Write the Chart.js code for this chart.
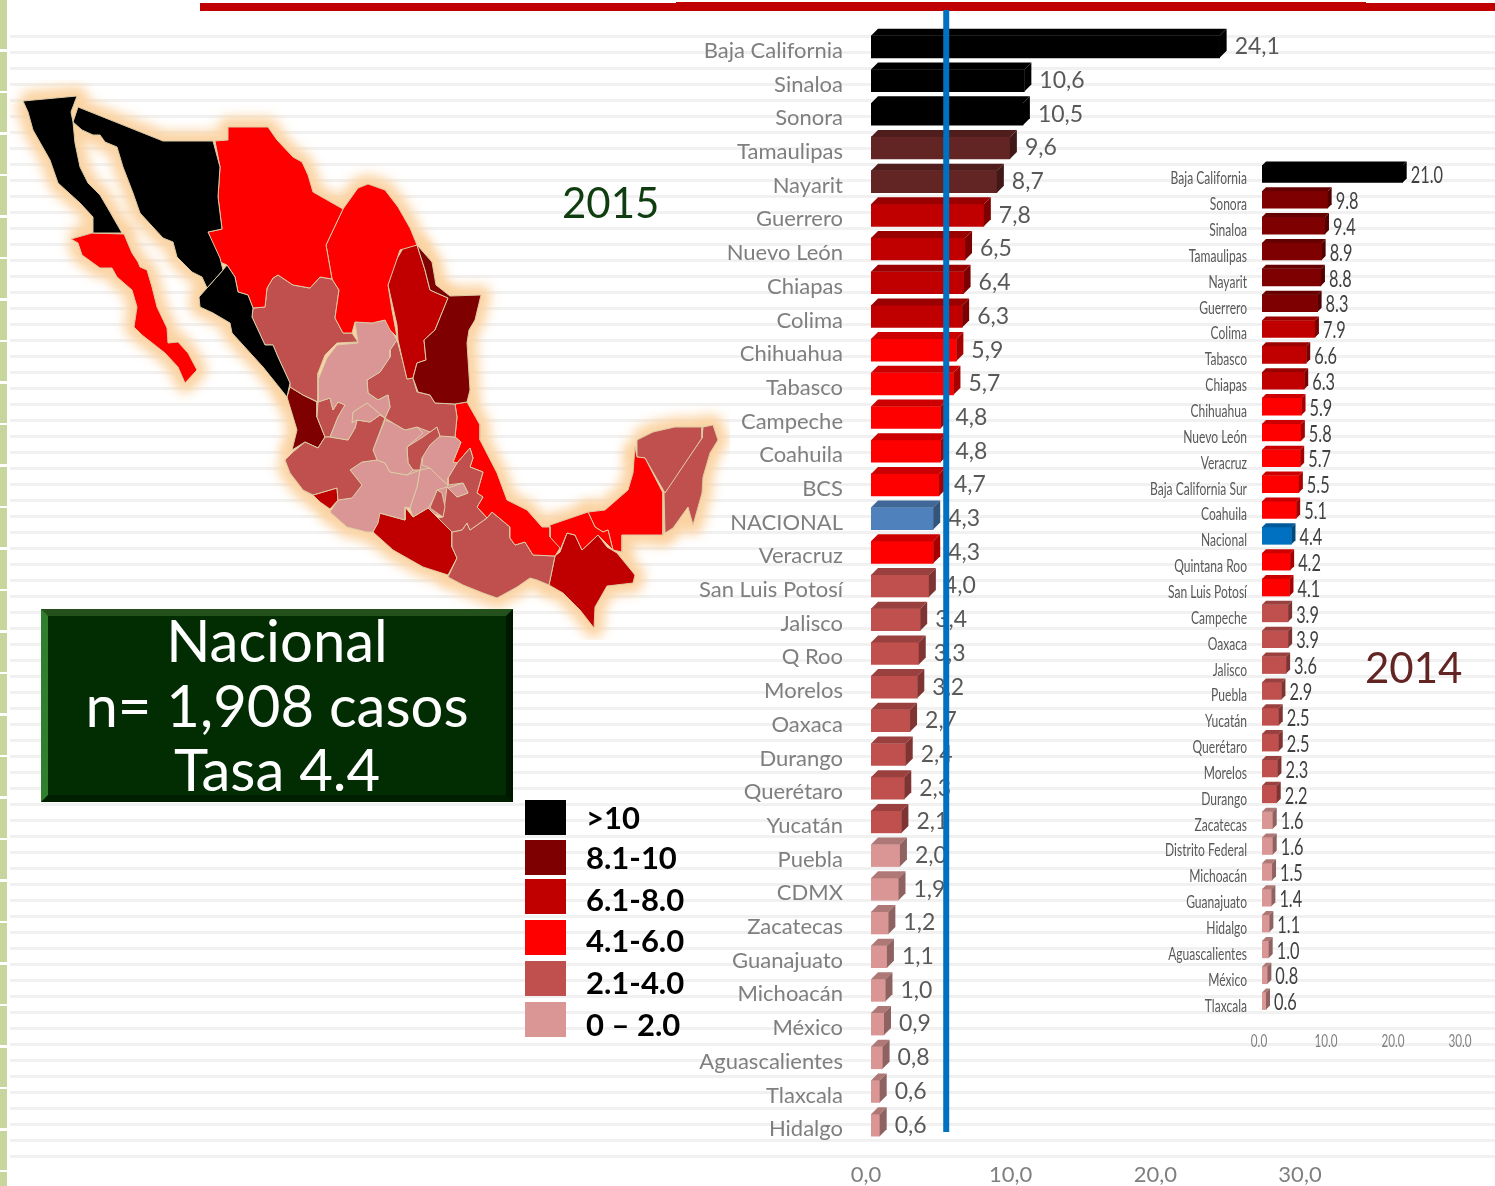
<!DOCTYPE html>
<html>
<head>
<meta charset="utf-8">
<title>Tasa 2015 / 2014</title>
<script src="https://cdn.jsdelivr.net/npm/chart.js@4"></script>
<style>
  html, body { margin: 0; padding: 0; background: #fff; }
  #page { position: relative; width: 1495px; height: 1186px; overflow: hidden; background: #fff; font-family: Lato, sans-serif; }
  #stripes { position: absolute; left: 10px; right: 0; top: 35px; bottom: 16px;
    background: repeating-linear-gradient(180deg, #f1f1f1 0, #f1f1f1 3px, #fff 3px, #fff 16px); }
  #strip { position: absolute; left: 0; top: 0; width: 7px; height: 1186px;
    background: repeating-linear-gradient(180deg, #c6d69c 0, #c6d69c 39px, #fff 39px, #fff 41.5px); background-position: 0 10px; }
  .redbar { position: absolute; background: #c00000; }
  canvas { position: absolute; }
  #box { position: absolute; left: 41px; top: 609px; width: 472px; height: 193px; box-sizing: border-box;
    background: #022c02; border-style: solid; border-width: 7px; border-color: #24501c #001800 #001f00 #2f7f2f;
    color: #fff; text-align: center; font-size: 58px; line-height: 64.5px; }
  #box div { white-space: nowrap; position: relative; top: -8px; }
  .year { position: absolute; font-size: 42px; line-height: 50px; }
  .swatch { position: absolute; left: 525px; width: 41px; height: 35px; }
  .legtext { position: absolute; left: 586px; font-weight: bold; font-size: 31px; line-height: 36px; color: #000; white-space: nowrap; }
</style>
</head>
<body>
<div id="page">
  <div id="stripes"></div>
  <div id="strip"></div>
  <div class="redbar" style="left:200px;top:3px;width:1295px;height:8px"></div>
  <div class="redbar" style="left:676px;top:2px;width:690px;height:8px"></div>
  <canvas id="map" width="730" height="560" style="left:0;top:80px"></canvas>
  <canvas id="chart2015" width="690" height="1186" style="left:680px;top:0"></canvas>
  <canvas id="chart2014" width="355" height="920" style="left:1140px;top:140px"></canvas>
  <div class="year" style="left:562px;top:177px;color:#0f3d0f">2015</div>
  <div class="year" style="left:1365px;top:642px;color:#632523">2014</div>
  <div id="box"><div>Nacional</div><div>n= 1,908 casos</div><div>Tasa 4.4</div></div>
  <div id="legend"></div>
</div>
<script>
// 2015
var labels2015 = ['Baja California', 'Sinaloa', 'Sonora', 'Tamaulipas', 'Nayarit', 'Guerrero', 'Nuevo León', 'Chiapas', 'Colima', 'Chihuahua', 'Tabasco', 'Campeche', 'Coahuila', 'BCS', 'NACIONAL', 'Veracruz', 'San Luis Potosí', 'Jalisco', 'Q Roo', 'Morelos', 'Oaxaca', 'Durango', 'Querétaro', 'Yucatán', 'Puebla', 'CDMX', 'Zacatecas', 'Guanajuato', 'Michoacán', 'México', 'Aguascalientes', 'Tlaxcala', 'Hidalgo'];
var values2015 = [24.1, 10.6, 10.5, 9.6, 8.7, 7.8, 6.5, 6.4, 6.3, 5.9, 5.7, 4.8, 4.8, 4.7, 4.3, 4.3, 4.0, 3.4, 3.3, 3.2, 2.7, 2.4, 2.3, 2.1, 2.0, 1.9, 1.2, 1.1, 1.0, 0.9, 0.8, 0.6, 0.6];
var refLine2015 = 5.2;

// 2014
var labels2014 = ['Baja California', 'Sonora', 'Sinaloa', 'Tamaulipas', 'Nayarit', 'Guerrero', 'Colima', 'Tabasco', 'Chiapas', 'Chihuahua', 'Nuevo León', 'Veracruz', 'Baja California Sur', 'Coahuila', 'Nacional', 'Quintana Roo', 'San Luis Potosí', 'Campeche', 'Oaxaca', 'Jalisco', 'Puebla', 'Yucatán', 'Querétaro', 'Morelos', 'Durango', 'Zacatecas', 'Distrito Federal', 'Michoacán', 'Guanajuato', 'Hidalgo', 'Aguascalientes', 'México', 'Tlaxcala'];
var values2014 = [21.0, 9.8, 9.4, 8.9, 8.8, 8.3, 7.9, 6.6, 6.3, 5.9, 5.8, 5.7, 5.5, 5.1, 4.4, 4.2, 4.1, 3.9, 3.9, 3.6, 2.9, 2.5, 2.5, 2.3, 2.2, 1.6, 1.6, 1.5, 1.4, 1.1, 1.0, 0.8, 0.6];

var legendLabels = ['>10', '8.1-10', '6.1-8.0', '4.1-6.0', '2.1-4.0', '0 – 2.0'];
var legendColors = ['#000000', '#7f0000', '#c00000', '#ff0000', '#c0504d', '#d99694'];

// map outlines, in map units; bin = index into legendColors
var mapNames = ['Baja California', 'BCS', 'Sonora', 'Sinaloa', 'Chihuahua', 'Coahuila', 'Tamaulipas', 'Nuevo León', 'Durango', 'Zacatecas', 'Aguascalientes', 'San Luis Potosí', 'Jalisco', 'Jalisco norte', 'Colima', 'Nayarit', 'Guanajuato', 'Querétaro', 'Hidalgo', 'Michoacán', 'México', 'Morelos', 'Tlaxcala', 'Puebla', 'Veracruz', 'Tabasco', 'Campeche', 'Yucatán', 'Q Roo', 'Oaxaca', 'Guerrero', 'Chiapas'];
var mapBins = [0, 3, 0, 0, 3, 3, 1, 2, 4, 5, 5, 4, 4, 4, 2, 1, 5, 4, 5, 5, 5, 4, 5, 4, 3, 3, 3, 4, 4, 4, 2, 2];
var mapOutlines = [
  [[23,101],[77,96],[71,112],[73,122],[75,143],[80,167],[88,183],[100,195],[110,212],[122,233],[93,233],[93,217],[80,203],[58,183],[50,160],[33,130],[28,112]],
  [[71,239],[92,233],[124,234],[132,253],[138,262],[140,267],[147,270],[152,287],[157,307],[167,328],[168,343],[178,342],[188,353],[197,370],[185,383],[178,367],[165,353],[142,335],[134,327],[137,307],[132,290],[117,277],[112,268],[100,268],[82,255],[78,243]],
  [[73,122],[78,107],[163,141],[213,141],[220,167],[218,197],[222,229],[208,232],[220,258],[223,270],[207,288],[202,277],[192,272],[177,257],[173,242],[163,238],[140,213],[133,193],[123,167],[117,147],[105,142],[100,135],[93,135],[82,130]],
  [[207,288],[223,270],[227,265],[235,277],[238,292],[248,295],[253,308],[252,317],[265,345],[273,345],[278,357],[290,383],[287,397],[263,367],[232,333],[230,323],[213,313],[200,307],[199,297]],
  [[215,141],[228,140],[228,127],[268,127],[277,140],[293,157],[302,162],[308,175],[313,192],[343,209],[326,245],[332,279],[320,277],[310,288],[293,285],[278,275],[273,278],[267,288],[265,307],[253,308],[248,295],[238,292],[235,277],[227,265],[220,262],[208,232],[222,229],[218,197],[220,167]],
  [[326,245],[343,209],[358,188],[368,184],[385,190],[398,207],[410,228],[417,245],[400,250],[396,262],[388,285],[392,310],[397,337],[390,330],[385,320],[372,323],[355,322],[352,333],[343,333],[335,318],[339,290],[332,279]],
  [[417,245],[432,262],[436,285],[450,296],[481,295],[475,320],[469,330],[467,343],[470,390],[467,402],[455,404],[435,403],[430,395],[418,392],[413,378],[417,363],[426,360],[424,340],[435,330],[448,298],[430,290],[425,270]],
  [[395,262],[405,245],[417,245],[425,270],[430,290],[448,298],[435,330],[424,340],[426,360],[417,363],[413,378],[407,379],[403,362],[398,340],[397,325],[388,285]],
  [[253,308],[265,307],[267,288],[273,278],[278,275],[293,285],[310,288],[320,277],[332,279],[339,290],[335,318],[343,333],[352,333],[358,342],[337,343],[325,355],[318,373],[318,402],[303,395],[290,387],[290,383],[278,357],[273,345],[265,345],[252,317]],
  [[358,343],[355,322],[372,323],[385,320],[397,340],[390,350],[390,357],[380,372],[367,380],[368,393],[378,400],[388,395],[390,407],[385,418],[367,403],[353,412],[352,423],[357,420],[355,428],[348,440],[330,437],[338,417],[345,405],[338,402],[333,410],[330,398],[318,402],[318,380],[327,358],[337,345]],
  [[353,412],[367,403],[385,418],[380,415],[370,422],[357,420],[352,423]],
  [[397,340],[403,362],[407,379],[413,378],[417,392],[430,395],[435,403],[455,404],[457,417],[455,437],[440,436],[437,427],[430,432],[417,427],[405,430],[393,423],[385,418],[390,407],[388,395],[378,400],[368,393],[367,380],[380,372],[390,357],[390,350]],
  [[285,460],[293,452],[305,442],[318,448],[325,437],[330,437],[348,440],[355,428],[357,420],[370,422],[380,415],[385,418],[373,450],[377,460],[362,462],[350,470],[362,485],[352,498],[338,500],[337,488],[313,495],[303,490],[290,473]],
  [[318,402],[330,398],[333,410],[338,402],[345,405],[338,417],[330,437],[325,437],[317,417]],
  [[313,495],[337,488],[338,500],[330,509],[320,502]],
  [[290,387],[303,395],[317,402],[317,417],[325,437],[318,448],[305,442],[292,450],[297,430],[287,397]],
  [[385,420],[393,423],[405,430],[417,427],[423,433],[407,447],[408,463],[413,470],[407,475],[390,472],[385,463],[377,460],[373,450]],
  [[407,447],[423,437],[430,432],[437,427],[440,436],[430,445],[422,458],[420,470],[413,470],[408,463]],
  [[440,436],[455,437],[461,442],[453,462],[457,463],[448,478],[448,485],[440,478],[430,468],[422,465],[423,455],[430,445]],
  [[350,470],[362,462],[377,460],[385,463],[390,472],[407,475],[420,470],[417,487],[410,508],[405,507],[405,520],[380,513],[378,523],[373,532],[367,532],[347,527],[330,512],[338,500],[352,498],[362,485]],
  [[420,470],[430,468],[440,478],[448,485],[447,487],[437,490],[433,500],[428,508],[413,517],[410,508],[417,487]],
  [[433,500],[437,490],[442,493],[445,507],[443,517],[430,508]],
  [[448,488],[463,483],[468,493],[457,497]],
  [[457,463],[470,448],[473,458],[470,467],[483,472],[477,493],[483,497],[477,507],[487,518],[470,530],[467,523],[462,530],[452,532],[438,518],[443,517],[447,487],[457,497],[468,493],[463,483],[448,485],[448,478]],
  [[455,404],[467,402],[480,425],[480,440],[497,473],[507,500],[527,510],[542,527],[550,527],[550,537],[560,548],[555,556],[533,555],[525,542],[515,545],[510,538],[510,527],[492,512],[487,518],[477,507],[483,497],[477,493],[483,472],[470,467],[473,458],[470,448],[457,463],[453,462],[461,442],[455,437],[457,417]],
  [[550,525],[588,512],[595,527],[603,532],[608,530],[613,550],[598,535],[582,550],[575,535],[567,533],[560,550],[550,537]],
  [[635,447],[637,457],[645,458],[663,493],[663,535],[622,535],[622,552],[613,550],[608,530],[603,532],[595,527],[588,512],[605,510],[628,490],[633,473]],
  [[637,440],[653,432],[675,427],[702,427],[702,438],[665,493],[645,458],[637,457]],
  [[703,427],[713,425],[718,440],[710,453],[703,477],[702,493],[693,525],[688,507],[673,528],[665,533],[664,493],[702,438]],
  [[452,532],[462,530],[467,523],[470,530],[487,518],[492,512],[510,527],[510,538],[515,545],[525,542],[533,555],[555,556],[549,585],[537,580],[530,578],[517,587],[497,598],[483,593],[463,585],[448,577],[457,558],[452,547]],
  [[373,532],[379,513],[405,520],[405,507],[413,517],[428,508],[438,518],[452,532],[452,547],[457,558],[448,575],[423,567],[393,550]],
  [[555,556],[560,552],[567,533],[575,535],[582,550],[598,535],[607,547],[617,553],[635,575],[633,583],[607,586],[595,607],[594,628],[580,610],[563,593],[549,585]]
];
// sits under the central states so no glow shows between them
var mapCentre = [[330,400],[360,345],[390,345],[410,385],[440,410],[455,420],[478,500],[470,525],[440,515],[410,505],[375,510],[345,495],[330,450]];

function darken(hex, f) {
  var n = parseInt(hex.slice(1), 16);
  var r = Math.round((n >> 16) * f), g = Math.round(((n >> 8) & 255) * f), b = Math.round((n & 255) * f);
  return `rgb(${r},${g},${b})`;
}

function barColors2015(v, name) {
  if (name == 'NACIONAL') return '#4f81bd';
  if (v > 10) return '#000000';
  if (v > 8) return '#632523';
  if (v > 6) return '#c00000';
  if (v >= 4.1) return '#ff0000';
  if (v > 2) return '#c0504d';
  return '#d99694';
}

function barColors2014(v, name) {
  if (name == 'Nacional') return '#0070c0';
  if (v > 10) return '#000000';
  if (v > 8) return '#7f0000';
  if (v > 6) return '#c00000';
  if (v >= 4.1) return '#ff0000';
  if (v > 2) return '#c0504d';
  return '#d99694';
}

function drawNarrow(ctx, text, x, y, sx) {
  ctx.save();
  ctx.translate(x, y);
  ctx.scale(sx, 1);
  ctx.fillText(text, 0, 0);
  ctx.restore();
}

// extruded faces and value labels, the bars themselves are plain Chart.js bars
function bars3d(o) {
  return {
    id: 'bars3d',
    afterDatasetsDraw: function (c) {
      var ctx = c.ctx;
      var meta = c.getDatasetMeta(0);
      var d = c.data.datasets[0];
      var depth = o.depth;
      ctx.save();
      meta.data.forEach(function (e, i) {
        var col = d.backgroundColor[i];
        var x0 = e.base, x1 = e.x;
        var top = e.y - e.height / 2, bot = e.y + e.height / 2;
        ctx.fillStyle = darken(col, 0.8);
        ctx.beginPath();
        ctx.moveTo(x0, top);
        ctx.lineTo(x0 + depth, top - depth);
        ctx.lineTo(x1 + depth, top - depth);
        ctx.lineTo(x1, top);
        ctx.closePath();
        ctx.fill();
        ctx.fillStyle = darken(col, 0.65);
        ctx.beginPath();
        ctx.moveTo(x1, top);
        ctx.lineTo(x1 + depth, top - depth);
        ctx.lineTo(x1 + depth, bot - depth);
        ctx.lineTo(x1, bot);
        ctx.closePath();
        ctx.fill();
      });
      ctx.font = o.font;
      ctx.fillStyle = o.color;
      ctx.textAlign = 'left';
      ctx.textBaseline = 'middle';
      meta.data.forEach(function (e, i) {
        drawNarrow(ctx, o.fmt(d.data[i]), e.x + depth + o.gap, e.y + o.dy, o.sx);
      });
      ctx.restore();
    }
  };
}

// the 2014 panel has squeezed lettering, no installed narrow face, so scale it
var narrowTicks = {
  id: 'narrowTicks',
  afterDraw: function (c) {
    var ctx = c.ctx;
    var ys = c.scales.y, xs = c.scales.x;
    ctx.save();
    ctx.textBaseline = 'middle';
    ctx.font = '17px Lato';
    ctx.fillStyle = '#595959';
    ctx.textAlign = 'right';
    ys.ticks.forEach(function (t, i) {
      drawNarrow(ctx, t.label, ys.right - 15, ys.getPixelForTick(i) + 5, 0.71);
    });
    ctx.font = '18px Lato';
    ctx.fillStyle = '#7f7f7f';
    ctx.textAlign = 'center';
    xs.ticks.forEach(function (t, i) {
      drawNarrow(ctx, t.value.toFixed(1), xs.getPixelForTick(i) - 3, xs.bottom - 19, 0.65);
    });
    ctx.restore();
  }
};

var refLinePlugin = {
  id: 'refLine',
  afterDraw: function (c) {
    var x = c.scales.x.getPixelForValue(refLine2015);
    var ctx = c.ctx;
    ctx.save();
    ctx.fillStyle = '#0070c0';
    ctx.fillRect(x - 3, c.scales.y.top - 20, 6, c.scales.y.bottom - c.scales.y.top + 10);
    ctx.restore();
  }
};

function barOptions(o) {
  return {
    indexAxis: 'y',
    responsive: false,
    animation: false,
    events: [],
    layout: { padding: { left: 0, right: o.right, top: o.top, bottom: 0 } },
    plugins: { legend: { display: false }, tooltip: { enabled: false } },
    scales: {
      x: {
        min: 0,
        max: 30,
        grid: { display: false, drawTicks: false },
        border: { display: false },
        afterFit: function (s) { s.height = o.axisH; },
        ticks: {
          display: o.showTicks,
          stepSize: 10,
          maxRotation: 0,
          padding: 20,
          labelOffset: -5,
          color: '#7f7f7f',
          font: { family: 'Lato', size: 22 },
          callback: function (v) { return v.toFixed(1).replace('.', ','); }
        }
      },
      y: {
        grid: { display: false, drawTicks: false },
        border: { display: false },
        afterFit: function (s) {
          s.width = o.axisW;
          // tick padding would otherwise push the plot top down
          s.paddingTop = 0;
          s.paddingBottom = 0;
        },
        ticks: {
          display: o.showTicks,
          autoSkip: false,
          padding: 28,
          labelOffset: 4,
          color: '#7f7f7f',
          font: { family: 'Lato', size: 22 }
        }
      }
    }
  };
}

new Chart(document.getElementById('chart2015'), {
  type: 'bar',
  data: {
    labels: labels2015,
    datasets: [{
      data: values2015,
      barThickness: 22,
      backgroundColor: values2015.map(function (v, i) { return barColors2015(v, labels2015[i]); })
    }]
  },
  options: barOptions({ right: 65, top: 30, axisH: 44, axisW: 191, showTicks: true }),
  plugins: [bars3d({
    depth: 7, gap: 8, dy: 0, sx: 1, font: '23px Lato', color: '#595959',
    fmt: function (v) { return v.toFixed(1).replace('.', ','); }
  }), refLinePlugin]
});

new Chart(document.getElementById('chart2014'), {
  type: 'bar',
  data: {
    labels: labels2014,
    datasets: [{
      data: values2014,
      barThickness: 17,
      backgroundColor: values2014.map(function (v, i) { return barColors2014(v, labels2014[i]); })
    }]
  },
  options: barOptions({ right: 32, top: 21, axisH: 46, axisW: 122, showTicks: false }),
  plugins: [bars3d({
    depth: 4, gap: 4, dy: 1.5, sx: 0.68, font: '24px Lato', color: '#404040',
    fmt: function (v) { return v.toFixed(1); }
  }), narrowTicks]
});

// map: the glow datasets sit under the filled states
var mapSets = [];
function toPoints(pts) {
  return pts.concat([pts[0]]).map(function (p) { return { x: p[0], y: p[1] }; });
}
mapOutlines.forEach(function (pts, i) {
  var line = toPoints(pts);
  mapSets.push({
    label: mapNames[i],
    data: line,
    showLine: true,
    pointRadius: 0,
    tension: 0,
    clip: false,
    fill: 'shape',
    backgroundColor: legendColors[mapBins[i]],
    borderColor: '#dccba6',
    borderWidth: 1,
    order: 1
  });
  mapSets.push({
    label: mapNames[i] + ' glow',
    glow: true,
    data: line,
    showLine: true,
    pointRadius: 0,
    tension: 0,
    clip: false,
    fill: false,
    borderColor: '#fbd3a2',
    borderWidth: 20,
    borderJoinStyle: 'round',
    order: 3
  });
});
mapSets.push({
  label: 'centro',
  data: toPoints(mapCentre),
  showLine: true,
  pointRadius: 0,
  tension: 0,
  clip: false,
  fill: 'shape',
  backgroundColor: legendColors[5],
  borderColor: legendColors[5],
  borderWidth: 1,
  order: 2
});

new Chart(document.getElementById('map'), {
  type: 'scatter',
  data: { datasets: mapSets },
  options: {
    responsive: false,
    animation: false,
    events: [],
    layout: { padding: 0 },
    plugins: { legend: { display: false }, tooltip: { enabled: false } },
    scales: {
      x: { display: false, min: 0, max: 730 },
      y: { display: false, min: 80, max: 640, reverse: true }
    }
  },
  plugins: [{
    id: 'glow',
    beforeDatasetDraw: function (c, args) {
      if (c.data.datasets[args.index].glow) c.ctx.filter = 'blur(6px)';
    },
    afterDatasetDraw: function (c, args) {
      c.ctx.filter = 'none';
    }
  }]
});

// legend
var legendTops = [800, 840, 879, 920, 961, 1002];
var legendMids = [817, 857, 899, 940, 982, 1024];
legendLabels.forEach(function (t, i) {
  var s = document.createElement('div');
  s.className = 'swatch';
  s.style.top = legendTops[i] + 'px';
  s.style.background = legendColors[i];
  var l = document.createElement('div');
  l.className = 'legtext';
  l.style.top = (legendMids[i] - 18) + 'px';
  l.textContent = t;
  document.getElementById('legend').appendChild(s);
  document.getElementById('legend').appendChild(l);
});
</script>
</body>
</html>
